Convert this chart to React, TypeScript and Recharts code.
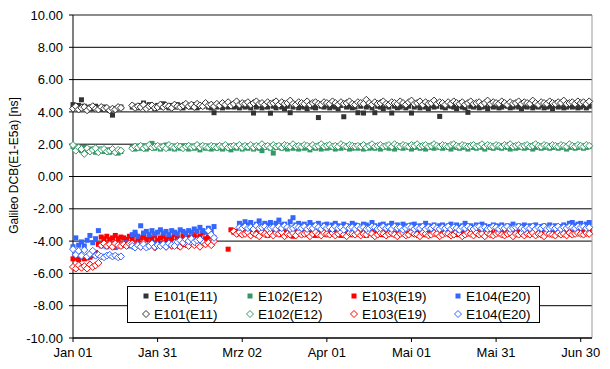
import { ScatterChart, Scatter, XAxis, YAxis, CartesianGrid, ReferenceLine, Legend } from "recharts";

// one value per day, day 0 = Jan 01; null = no estimate that day
const e101Fill = [
  4.45, 4.30, 4.40, 4.75, 4.35, 4.25, 4.30, 4.20, 4.35, 4.25,
  4.15, 4.30, 4.20, 4.10, 3.80, 4.20, 4.25, 4.30, null, null,
  null, 4.30, 4.35, 4.25, 4.40, 4.55, 4.30, 4.45, 4.35, 4.20,
  4.40, 4.30, 4.50, 4.35, 4.25, 4.40, 4.30, 4.45, 4.35, 4.25,
  4.40, 4.35, 4.30, 4.45, 4.25, 4.40, 4.35, 4.50, 4.30, 4.25,
  3.95, 4.30, 4.40, 4.25, 4.35, 4.30, 4.45, 4.30, 4.35, 4.25,
  4.40, 4.30, 4.35, 4.25, 3.93, 4.30, 4.40, 4.25, 4.35, 4.30,
  3.92, 4.35, 4.25, 4.40, 4.30, 4.20, 4.35, 3.95, 4.30, 4.40,
  4.25, 4.35, 4.30, 4.20, 4.40, 4.30, 4.25, 3.65, 4.35, 4.30,
  4.40, 4.25, 4.35, 4.30, 4.20, 4.40, 3.70, 4.30, 4.35, 4.25,
  4.30, 3.95, 4.35, 3.93, 4.30, 4.40, 4.25, 3.95, 4.35, 4.30,
  4.20, 4.40, 4.30, 3.93, 4.35, 4.25, 4.30, 4.40, 4.25, 4.35,
  3.93, 4.30, 4.40, 4.25, 4.35, 4.30, 4.20, 4.40, 4.30, 4.35,
  3.72, 4.30, 4.25, 4.40, 4.35, 4.30, 4.20, 4.40, 4.30, 4.25,
  3.97, 4.35, 4.30, 4.40, 4.25, 4.30, 4.35, 4.20, 4.40, 4.30,
  4.35, 4.25, 4.30, 4.40, 4.35, 4.25, 4.30, 4.40, 4.30, 4.20,
  4.35, 4.30, 4.40, 4.25, 4.35, 4.30, 4.40, 4.25, 4.30, 4.35,
  4.20, 4.40, 4.30, 4.35, 4.25, 4.30, 4.40, 4.30, 4.35, 4.25,
  4.30, 4.40, 4.25, 4.35,
];

const e102Fill = [
  1.85, 1.70, 1.75, 1.60, 1.80, 1.55, 1.70, 1.65, 1.50, 1.70,
  1.60, 1.55, 1.65, 1.50, 1.60, 1.55, 1.45, 1.55, null, null,
  null, 1.80, 1.70, 1.85, 1.75, 1.90, 1.70, 1.80, 2.05, 1.75,
  1.85, 1.70, 1.80, 1.95, 1.75, 1.85, 1.70, 1.80, 1.75, 1.90,
  1.80, 1.70, 1.85, 1.75, 1.80, 1.65, 1.85, 1.75, 1.80, 1.70,
  1.85, 1.75, 1.80, 1.70, 1.85, 1.75, 1.65, 1.80, 1.75, 1.85,
  1.70, 1.80, 1.75, 1.85, 1.70, 1.80, 1.75, 1.60, 1.80, 1.85,
  1.75, 1.45, 1.80, 1.85, 1.75, 1.80, 1.70, 1.85, 1.75, 1.80,
  1.70, 1.85, 1.75, 1.80, 1.65, 1.80, 1.75, 1.85, 1.70, 1.80,
  1.75, 1.80, 1.85, 1.70, 1.80, 1.75, 1.85, 1.80, 1.70, 1.75,
  1.85, 1.75, 1.80, 1.70, 1.85, 1.75, 1.80, 1.75, 1.85, 1.70,
  1.80, 1.85, 1.75, 1.80, 1.70, 1.85, 1.80, 1.75, 1.85, 1.80,
  1.70, 1.80, 1.85, 1.75, 1.80, 1.70, 1.85, 1.80, 1.75, 1.85,
  1.80, 1.75, 1.85, 1.80, 1.70, 1.85, 1.80, 1.75, 1.80, 1.85,
  1.70, 1.85, 1.80, 1.75, 1.85, 1.80, 1.70, 1.85, 1.80, 1.75,
  1.85, 1.80, 1.75, 1.85, 1.80, 1.70, 1.85, 1.75, 1.80, 1.85,
  1.75, 1.80, 1.85, 1.70, 1.80, 1.85, 1.75, 1.80, 1.85, 1.75,
  1.80, 1.85, 1.75, 1.80, 1.85, 1.70, 1.80, 1.85, 1.75, 1.80,
  1.85, 1.75, 1.80, 1.85,
];

const e103Fill = [
  -5.10, -5.05, -5.15, -5.00, -5.10, -5.05, -5.00, -4.90, -4.70, -4.20,
  -3.75, -3.85, -3.70, -3.90, -3.80, -3.65, -3.85, -3.75, -3.80, -3.90,
  -3.70, -3.85, -3.60, -3.95, -3.80, -3.70, -3.90, -3.75, -3.85, -3.65,
  -3.95, -3.80, -3.70, -3.90, -3.75, -3.85, -3.60, -3.80, -3.95, -3.70,
  -3.85, -3.75, -3.90, -3.60, -3.80, -3.70, -3.50, -3.85, -3.75, -3.65,
  -3.80, null, null, null, null, -4.50, -3.30, -3.45, -3.40, -3.55,
  -3.35, -3.50, -3.40, -3.60, -3.45, -3.35, -3.55, -3.40, -3.50, -3.65,
  -3.45, -3.40, -3.55, -3.45, -3.60, -3.35, -3.50, -3.45, -3.70, -3.40,
  -3.55, -3.50, -3.45, -3.60, -3.40, -3.55, -3.65, -3.45, -3.50, -3.40,
  -3.60, -3.45, -3.55, -3.40, -3.50, -3.65, -3.45, -3.55, -3.40, -3.60,
  -3.50, -3.45, -3.55, -3.40, -3.65, -3.50, -3.45, -3.55, -3.40, -3.60,
  -3.50, -3.45, -3.40, -3.55, -3.50, -3.60, -3.45, -3.40, -3.55, -3.50,
  -3.45, -3.55, -3.40, -3.50, -3.60, -3.45, -3.50, -3.40, -3.55, -3.45,
  -3.60, -3.50, -3.45, -3.40, -3.55, -3.50, -3.60, -3.45, -3.40, -3.55,
  -3.50, -3.45, -3.55, -3.40, -3.50, -3.45, -3.60, -3.50, -3.40, -3.55,
  -3.45, -3.50, -3.40, -3.45, -3.55, -3.35, -3.50, -3.45, -3.40, -3.30,
  -3.45, -3.35, -3.40, -3.25, -3.45, -3.30, -3.40, -3.20, -3.35, -3.45,
  -3.30, -3.40, -3.35, -3.50, -3.40, -3.45, -3.35, -3.50, -3.40, -3.45,
  -3.35, -3.45, -3.40, -3.30,
];

const e104Fill = [
  -4.35, -3.80, -4.25, -4.05, -4.30, -3.95, -3.65, -4.10, -3.85, -3.35,
  -4.30, -4.20, -4.35, -4.15, -4.25, -4.40, -4.20, -4.30, -4.25, -4.10,
  -4.30, -3.60, -3.45, -3.70, -3.05, -3.50, -3.40, -3.60, -3.35, -3.55,
  -3.45, -3.30, -3.50, -3.40, -3.60, -3.35, -3.45, -3.55, -3.30, -3.40,
  -3.50, -3.35, -3.45, -3.25, -3.40, -3.15, -3.35, -3.45, -3.20, -3.40,
  -3.10, null, null, null, null, null, null, null, null, -2.90,
  -3.05, -2.80, -3.00, -2.85, -3.10, -2.95, -2.75, -3.05, -2.90, -3.00,
  -2.85, -3.05, -2.90, -2.70, -3.00, -2.95, -3.10, -2.80, -2.55, -3.00,
  -2.90, -3.05, -2.95, -3.10, -2.85, -3.00, -3.05, -2.90, -3.15, -3.00,
  -2.95, -3.10, -3.00, -2.90, -3.05, -3.15, -2.95, -3.05, -3.10, -2.90,
  -3.00, -3.05, -3.15, -2.95, -3.00, -3.10, -2.85, -3.05, -3.15, -3.00,
  -2.95, -3.10, -3.05, -2.90, -3.15, -3.00, -3.10, -2.95, -3.05, -3.15,
  -3.00, -2.95, -3.10, -3.05, -3.15, -2.90, -3.05, -3.10, -3.00, -3.15,
  -3.05, -3.00, -3.15, -3.05, -2.95, -3.10, -3.00, -3.15, -3.05, -2.90,
  -3.10, -3.05, -3.15, -3.00, -3.10, -2.95, -3.05, -3.15, -3.10, -3.00,
  -3.05, -3.10, -3.00, -3.15, -3.05, -3.10, -2.95, -3.15, -3.05, -3.10,
  -3.00, -3.15, -3.05, -3.10, -3.00, -3.15, -3.10, -3.05, -3.15, -3.00,
  -3.10, -3.05, -3.15, -3.10, -3.00, -3.10, -2.90, -2.85, -3.05, -2.95,
  -2.90, -3.05, -2.95, -2.85,
];

const e101Open = [
  4.20, 4.35, 4.15, 4.25, 4.30, 4.10, 4.25, 4.35, 4.20, 4.15,
  4.30, 4.20, 4.25, 4.10, 4.20, 4.15, 4.30, 4.25, null, null,
  null, 4.40, 4.25, 4.35, 4.30, 4.45, 4.20, 4.35, 4.40, 4.25,
  4.30, 4.45, 4.30, 4.40, 4.35, 4.25, 4.45, 4.35, 4.30, 4.40,
  4.50, 4.35, 4.45, 4.30, 4.50, 4.40, 4.35, 4.55, 4.40, 4.45,
  4.35, 4.50, 4.40, 4.55, 4.45, 4.60, 4.40, 4.50, 4.65, 4.45,
  4.55, 4.50, 4.60, 4.45, 4.55, 4.65, 4.50, 4.55, 4.45, 4.60,
  4.50, 4.55, 4.65, 4.45, 4.60, 4.50, 4.55, 4.70, 4.50, 4.45,
  4.60, 4.55, 4.50, 4.65, 4.45, 4.55, 4.60, 4.50, 4.45, 4.60,
  4.55, 4.50, 4.65, 4.55, 4.45, 4.60, 4.50, 4.55, 4.65, 4.50,
  4.45, 4.60, 4.55, 4.50, 4.75, 4.55, 4.45, 4.60, 4.50, 4.55,
  4.65, 4.50, 4.45, 4.60, 4.55, 4.50, 4.65, 4.55, 4.45, 4.60,
  4.70, 4.50, 4.55, 4.65, 4.45, 4.60, 4.50, 4.55, 4.70, 4.50,
  4.60, 4.55, 4.45, 4.60, 4.50, 4.65, 4.55, 4.50, 4.60, 4.45,
  4.55, 4.65, 4.50, 4.55, 4.60, 4.45, 4.55, 4.70, 4.50, 4.60,
  4.55, 4.50, 4.65, 4.55, 4.45, 4.60, 4.50, 4.55, 4.65, 4.50,
  4.60, 4.55, 4.50, 4.70, 4.55, 4.45, 4.60, 4.55, 4.50, 4.65,
  4.55, 4.50, 4.60, 4.55, 4.70, 4.50, 4.55, 4.60, 4.50, 4.65,
  4.55, 4.60, 4.50, 4.65,
];

const e102Open = [
  1.95, 1.60, 1.80, 1.70, 1.40, 1.75, 1.55, 1.65, 1.75, 1.50,
  1.65, 1.70, 1.55, 1.60, 1.70, 1.50, 1.65, 1.60, null, null,
  null, 1.75, 1.85, 1.80, 1.90, 1.75, 1.85, 1.95, 1.80, 1.85,
  1.90, 1.80, 1.85, 1.75, 1.95, 1.85, 1.80, 1.90, 1.85, 1.75,
  1.85, 1.90, 1.80, 1.85, 1.95, 1.80, 1.90, 1.85, 1.80, 1.90,
  1.85, 1.80, 1.90, 1.85, 1.95, 1.80, 1.85, 1.90, 1.85, 1.95,
  1.80, 1.90, 1.85, 1.95, 1.80, 1.90, 1.85, 2.00, 1.85, 1.90,
  1.80, 1.95, 1.85, 1.90, 1.80, 1.95, 1.90, 1.85, 2.00, 1.85,
  1.90, 1.85, 1.95, 1.90, 1.80, 1.95, 1.85, 1.90, 2.00, 1.85,
  1.90, 1.95, 1.85, 1.90, 1.85, 2.00, 1.90, 1.85, 1.95, 1.90,
  1.85, 1.90, 1.85, 1.95, 1.80, 1.90, 2.00, 1.85, 1.90, 1.95,
  1.85, 1.90, 1.95, 1.85, 2.00, 1.90, 1.85, 1.95, 1.90, 1.85,
  1.95, 1.90, 2.00, 1.85, 1.90, 1.95, 1.85, 1.90, 2.00, 1.90,
  1.85, 1.95, 1.90, 1.85, 1.95, 2.00, 1.90, 1.85, 1.95, 1.90,
  1.85, 1.90, 1.95, 1.85, 1.90, 2.00, 1.85, 1.95, 1.90, 1.85,
  1.95, 1.90, 1.85, 1.95, 1.90, 2.00, 1.85, 1.90, 1.95, 1.85,
  1.90, 1.95, 1.85, 1.90, 2.00, 1.90, 1.85, 1.95, 1.90, 1.85,
  1.95, 1.90, 1.85, 1.95, 1.90, 1.85, 2.00, 1.90, 1.85, 1.95,
  1.90, 1.85, 1.95, 1.90,
];

const e103Open = [
  -5.60, -5.70, -5.50, -5.65, -5.55, -5.70, -5.45, -5.60, -5.50, -5.35,
  -4.25, -4.15, -4.30, -4.20, -4.35, -4.15, -4.25, -4.30, -4.20, -4.30,
  -4.15, -4.15, -4.30, -4.20, -4.35, -4.10, -4.25, -4.30, -4.15, -4.40,
  -4.20, -4.25, -4.15, -4.35, -4.20, -4.30, -4.10, -4.25, -4.35, -4.15,
  -4.20, -4.30, -4.10, -4.25, -4.15, -4.35, -4.05, -4.20, -4.10, -4.25,
  -4.00, null, null, null, null, null, null, -3.40, -3.55, -3.45,
  -3.60, -3.55, -3.45, -3.65, -3.50, -3.60, -3.70, -3.45, -3.55, -3.60,
  -3.50, -3.65, -3.50, -3.55, -3.45, -3.70, -3.55, -3.60, -3.50, -3.65,
  -3.45, -3.60, -3.55, -3.50, -3.70, -3.55, -3.45, -3.60, -3.65, -3.50,
  -3.55, -3.60, -3.50, -3.65, -3.55, -3.45, -3.60, -3.70, -3.50, -3.55,
  -3.60, -3.50, -3.65, -3.55, -3.60, -3.45, -3.55, -3.70, -3.60, -3.50,
  -3.55, -3.65, -3.55, -3.50, -3.60, -3.70, -3.55, -3.50, -3.65, -3.60,
  -3.45, -3.55, -3.60, -3.70, -3.50, -3.55, -3.65, -3.60, -3.50, -3.55,
  -3.70, -3.60, -3.50, -3.55, -3.65, -3.60, -3.45, -3.55, -3.70, -3.60,
  -3.50, -3.55, -3.65, -3.50, -3.60, -3.55, -3.70, -3.50, -3.60, -3.65,
  -3.55, -3.50, -3.60, -3.65, -3.55, -3.50, -3.70, -3.55, -3.60, -3.50,
  -3.65, -3.55, -3.60, -3.50, -3.65, -3.55, -3.60, -3.70, -3.50, -3.55,
  -3.60, -3.65, -3.50, -3.60, -3.55, -3.65, -3.50, -3.60, -3.55, -3.50,
  -3.55, -3.60, -3.50, -3.55,
];

const e104Open = [
  -4.50, -4.85, -4.60, -4.90, -4.55, -4.95, -4.80, -4.60, -4.90, -4.85,
  -4.95, -5.00, -4.90, -4.85, -4.95, -4.90, -5.00, -4.95, null, null,
  null, -4.30, -4.40, -4.25, -4.35, -4.20, -4.40, -4.30, -4.15, -4.35,
  -4.25, -4.30, -4.20, -4.35, -4.15, -4.25, -4.30, -4.05, -3.95, -4.10,
  -3.90, -4.00, -3.85, -4.05, -3.95, -3.90, null, null, -3.35, -3.60,
  -3.80, null, null, null, null, null, null, null, null, -3.15,
  -3.20, -3.10, -3.20, -3.15, -3.25, -3.05, -3.20, -3.15, -3.10, -3.25,
  -3.20, -3.15, -3.25, -3.10, -3.20, -3.05, -3.15, -3.25, -3.20, -3.10,
  -3.15, -3.20, -3.10, -3.25, -3.15, -3.20, -3.05, -3.15, -3.25, -3.10,
  -3.20, -3.15, -3.25, -3.10, -3.20, -3.15, -3.30, -3.10, -3.20, -3.15,
  -3.25, -3.10, -3.20, -3.15, -3.25, -3.20, -3.10, -3.15, -3.25, -3.20,
  -3.10, -3.20, -3.15, -3.25, -3.10, -3.20, -3.15, -3.30, -3.20, -3.10,
  -3.15, -3.25, -3.15, -3.20, -3.10, -3.25, -3.15, -3.20, -3.10, -3.20,
  -3.25, -3.15, -3.20, -3.10, -3.25, -3.15, -3.20, -3.30, -3.15, -3.20,
  -3.10, -3.20, -3.25, -3.15, -3.10, -3.20, -3.15, -3.25, -3.20, -3.10,
  -3.15, -3.25, -3.15, -3.20, -3.10, -3.25, -3.20, -3.15, -3.10, -3.20,
  -3.25, -3.15, -3.20, -3.10, -3.25, -3.15, -3.20, -3.10, -3.25, -3.20,
  -3.15, -3.20, -3.10, -3.25, -3.15, -3.20, -3.10, -3.15, -3.20, -3.10,
  -3.15, -3.10, -3.20, -3.15,
];

const dateTicks = [0, 30, 60, 90, 120, 150, 180];
const dateLabels = ["Jan 01", "Jan 31", "Mrz 02", "Apr 01", "Mai 01", "Mai 31", "Jun 30"];
const dcbTicks = [-10, -8, -6, -4, -2, 0, 2, 4, 6, 8, 10];
const lastDay = 184;

const font = '"Liberation Sans", Arial, sans-serif';

const series = [
  { key: "f101", name: "E101(E11)", color: "#333333", open: false, values: e101Fill },
  { key: "f102", name: "E102(E12)", color: "#339966", open: false, values: e102Fill },
  { key: "f103", name: "E103(E19)", color: "#ff0000", open: false, values: e103Fill },
  { key: "f104", name: "E104(E20)", color: "#3366ff", open: false, values: e104Fill },
  { key: "o101", name: "E101(E11)", color: "#333333", open: true, values: e101Open },
  { key: "o102", name: "E102(E12)", color: "#339966", open: true, values: e102Open },
  { key: "o103", name: "E103(E19)", color: "#ff0000", open: true, values: e103Open },
  { key: "o104", name: "E104(E20)", color: "#3366ff", open: true, values: e104Open },
];

const toPoints = (values: (number | null)[]) =>
  values.flatMap((dcb, day) => (dcb === null ? [] : [{ day, dcb }]));

const marker = (color: string, open: boolean, cx: number, cy: number, r: number) =>
  open ? (
    <path
      d={`M${cx},${cy - r}L${cx + r},${cy}L${cx},${cy + r}L${cx - r},${cy}Z`}
      fill="#fff"
      stroke={color}
      strokeWidth={1}
    />
  ) : (
    <rect x={cx - r + 1} y={cy - r + 1} width={(r - 1) * 2} height={(r - 1) * 2} fill={color} />
  );

function LegendBox() {
  return (
    <div
      style={{
        position: "relative",
        boxSizing: "border-box",
        width: 413,
        height: 37,
        border: "1px solid #000",
        background: "#fff",
        fontFamily: font,
        fontSize: 13.5,
        color: "#000",
      }}
    >
      {series.map((s, i) => (
        <div
          key={s.key}
          style={{
            position: "absolute",
            left: 14 + (i % 4) * 104,
            top: 1 + Math.floor(i / 4) * 18,
            height: 16,
            display: "flex",
            alignItems: "center",
            whiteSpace: "nowrap",
          }}
        >
          <svg width={8} height={8} style={{ marginRight: 4 }}>
            {marker(s.color, s.open, 4, 4, 3.5)}
          </svg>
          <span>{s.name}</span>
        </div>
      ))}
    </div>
  );
}

export default function App() {
  return (
    <div style={{ position: "absolute", left: 0, top: 0, width: 610, height: 369, background: "#fff" }}>
      <ScatterChart width={610} height={369} margin={{ top: 15, right: 18, bottom: 0, left: 0 }} style={{ fontFamily: font }}>
        <CartesianGrid horizontal vertical={false} stroke="#000" strokeWidth={1} />
        <XAxis
          type="number"
          dataKey="day"
          domain={[0, lastDay]}
          ticks={dateTicks}
          interval={0}
          tickFormatter={(v: number) => dateLabels[dateTicks.indexOf(v)]}
          height={31}
          tickSize={4}
          tickMargin={6}
          axisLine={{ stroke: "#000" }}
          tickLine={{ stroke: "#000" }}
          tick={{ fill: "#000", fontSize: 13 }}
        />
        <YAxis
          type="number"
          dataKey="dcb"
          domain={[-10, 10]}
          ticks={dcbTicks}
          interval={0}
          tickFormatter={(v: number) => v.toFixed(2)}
          width={73}
          tickSize={4}
          tickMargin={6}
          axisLine={{ stroke: "#000" }}
          tickLine={{ stroke: "#000" }}
          tick={{ fill: "#000", fontSize: 13 }}
          label={{
            content: ({ viewBox }: any) => {
              const x = viewBox.x + 14;
              const y = viewBox.y + viewBox.height / 2 - 11;
              return (
                <text
                  x={x}
                  y={y}
                  transform={`rotate(-90, ${x}, ${y})`}
                  textAnchor="middle"
                  dominantBaseline="central"
                  fontSize={12}
                  fill="#000"
                  fontFamily={font}
                >
                  Galileo DCB(E1-E5a) [ns]
                </text>
              );
            },
          }}
        />
        <ReferenceLine y={10} stroke="#999999" />
        <ReferenceLine x={lastDay} stroke="#999999" />
        {series.map((s) => (
          <Scatter
            key={s.key}
            name={s.name}
            data={toPoints(s.values)}
            isAnimationActive={false}
            shape={(p: any) => marker(s.color, s.open, p.cx, p.cy, 3.5)}
          />
        ))}
        <Legend
          layout="horizontal"
          verticalAlign="middle"
          align="center"
          wrapperStyle={{ left: 127, top: 286, width: 413, height: 37 }}
          content={() => <LegendBox />}
        />
      </ScatterChart>
    </div>
  );
}
